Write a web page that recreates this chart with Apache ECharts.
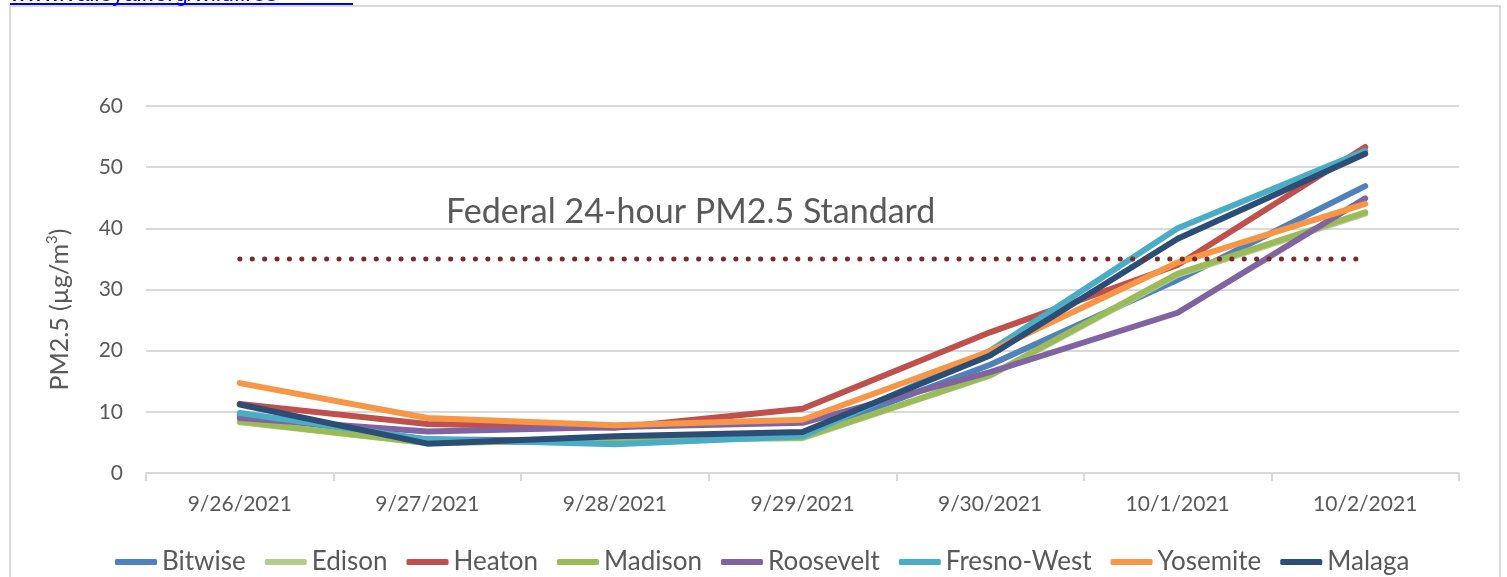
<!DOCTYPE html>
<html>
<head>
<meta charset="utf-8">
<script src="https://cdn.jsdelivr.net/npm/echarts@6/dist/echarts.min.js"></script>
<style>
  html, body { margin: 0; padding: 0; background: #fff; }
  #chart { width: 1507px; height: 577px; }
</style>
</head>
<body>
<div id="chart"></div>
<script>
// categories and readings (PM2.5, µg/m3)
var days = ['9/26/2021', '9/27/2021', '9/28/2021', '9/29/2021', '9/30/2021', '10/1/2021', '10/2/2021'];
var bitwise    = [9.5, 5.5, 5.2, 6.2, 17.7, 31.6, 46.9];
var edison     = [8.3, 4.9, 5.3, 5.7, 15.9, 32.4, 42.4];
var heaton     = [11.3, 8.0, 7.4, 10.5, 23.0, 34.0, 53.3];
var madison    = [8.4, 4.9, 5.4, 5.8, 16.0, 32.6, 42.6];
var roosevelt  = [9.0, 6.8, 7.5, 8.2, 16.5, 26.2, 44.9];
var fresnoWest = [9.8, 5.5, 4.7, 6.0, 20.0, 40.0, 52.7];
var yosemite   = [14.7, 9.0, 7.8, 8.7, 19.9, 34.4, 44.0];
var malaga     = [11.2, 4.8, 6.0, 6.7, 19.2, 38.3, 52.2];
var standard   = [35, 35, 35, 35, 35, 35, 35];
var yTicks = [0, 10, 20, 30, 40, 50, 60];

var stations = [
    ['Bitwise', bitwise, '#4F81BD'],
    ['Edison', edison, '#B5CC8E'],
    ['Heaton', heaton, '#C0504D'],
    ['Madison', madison, '#9BBB59'],
    ['Roosevelt', roosevelt, '#8064A2'],
    ['Fresno-West', fresnoWest, '#4BACC6'],
    ['Yosemite', yosemite, '#F79646'],
    ['Malaga', malaga, '#2C4D75']
];

var font = 'Lato';
var grey = '#595959';

var myChart = echarts.init(document.getElementById('chart'));

var series = stations.map(function (s) {
    return {
        name: s[0],
        type: 'line',
        data: s[1],
        symbol: 'none',
        color: s[2],
        lineStyle: { width: 6, cap: 'round', join: 'round' }
    };
});
// federal 24-hour standard, drawn last so the dots sit on top
series.push({
    name: 'standard',
    type: 'line',
    data: standard,
    symbol: 'none',
    color: '#7B2A2A',
    lineStyle: { width: 5, type: [0.1, 12.3], cap: 'round' }
});

var option = {
    animation: false,
    textStyle: { fontFamily: font },
    graphic: [
        {
            type: 'rect',
            shape: { x: 10, y: 6, width: 1490, height: 600 },
            style: { fill: 'none', stroke: '#D9D9D9', lineWidth: 2 }
        },
        {
            type: 'text',
            left: 10,
            top: -17,
            style: { text: 'www.valleyair.org/wildfires', fill: '#0000EE', font: '23px "Liberation Sans"' }
        },
        {
            type: 'rect',
            shape: { x: 10, y: 3, width: 343, height: 2 },
            style: { fill: '#0000EE' }
        },
        {
            type: 'text',
            left: 446,
            top: 195,
            style: { text: 'Federal 24-hour PM2.5 Standard', fill: grey, font: '34px Lato' }
        }
    ],
    legend: {
        data: stations.map(function (s) { return s[0]; }),
        left: 110,
        top: 544,
        icon: 'roundRect',
        itemWidth: 42,
        itemHeight: 6,
        itemGap: 19,
        textStyle: { color: grey, fontSize: 26, fontFamily: font }
    },
    grid: { left: 146, right: 48, top: 106, bottom: 104 },
    xAxis: {
        type: 'category',
        data: days,
        boundaryGap: true,
        axisLine: { lineStyle: { color: '#D9D9D9', width: 2 } },
        axisTick: { show: true, length: 8, lineStyle: { color: '#D9D9D9', width: 2 } },
        axisLabel: { color: grey, fontSize: 21, margin: 21 }
    },
    yAxis: {
        type: 'value',
        min: yTicks[0],
        max: yTicks[yTicks.length - 1],
        interval: 10,
        name: '{a|PM2.5 (µg/m}{s|3}{a|)}',
        nameLocation: 'middle',
        nameGap: 71,
        nameTextStyle: {
            padding: [0, 40, 0, 0],
            rich: {
                a: { fontSize: 25, color: grey, fontFamily: font, lineHeight: 30 },
                s: { fontSize: 15, color: grey, fontFamily: font, verticalAlign: 'top', lineHeight: 30, padding: [0, 0, 12, 0] }
            }
        },
        axisLine: { show: false },
        axisTick: { show: false },
        splitLine: { lineStyle: { color: '#D9D9D9', width: 2 } },
        axisLabel: { color: grey, fontSize: 21, margin: 23 }
    },
    series: series
};
myChart.setOption(option);
</script>
</body>
</html>
